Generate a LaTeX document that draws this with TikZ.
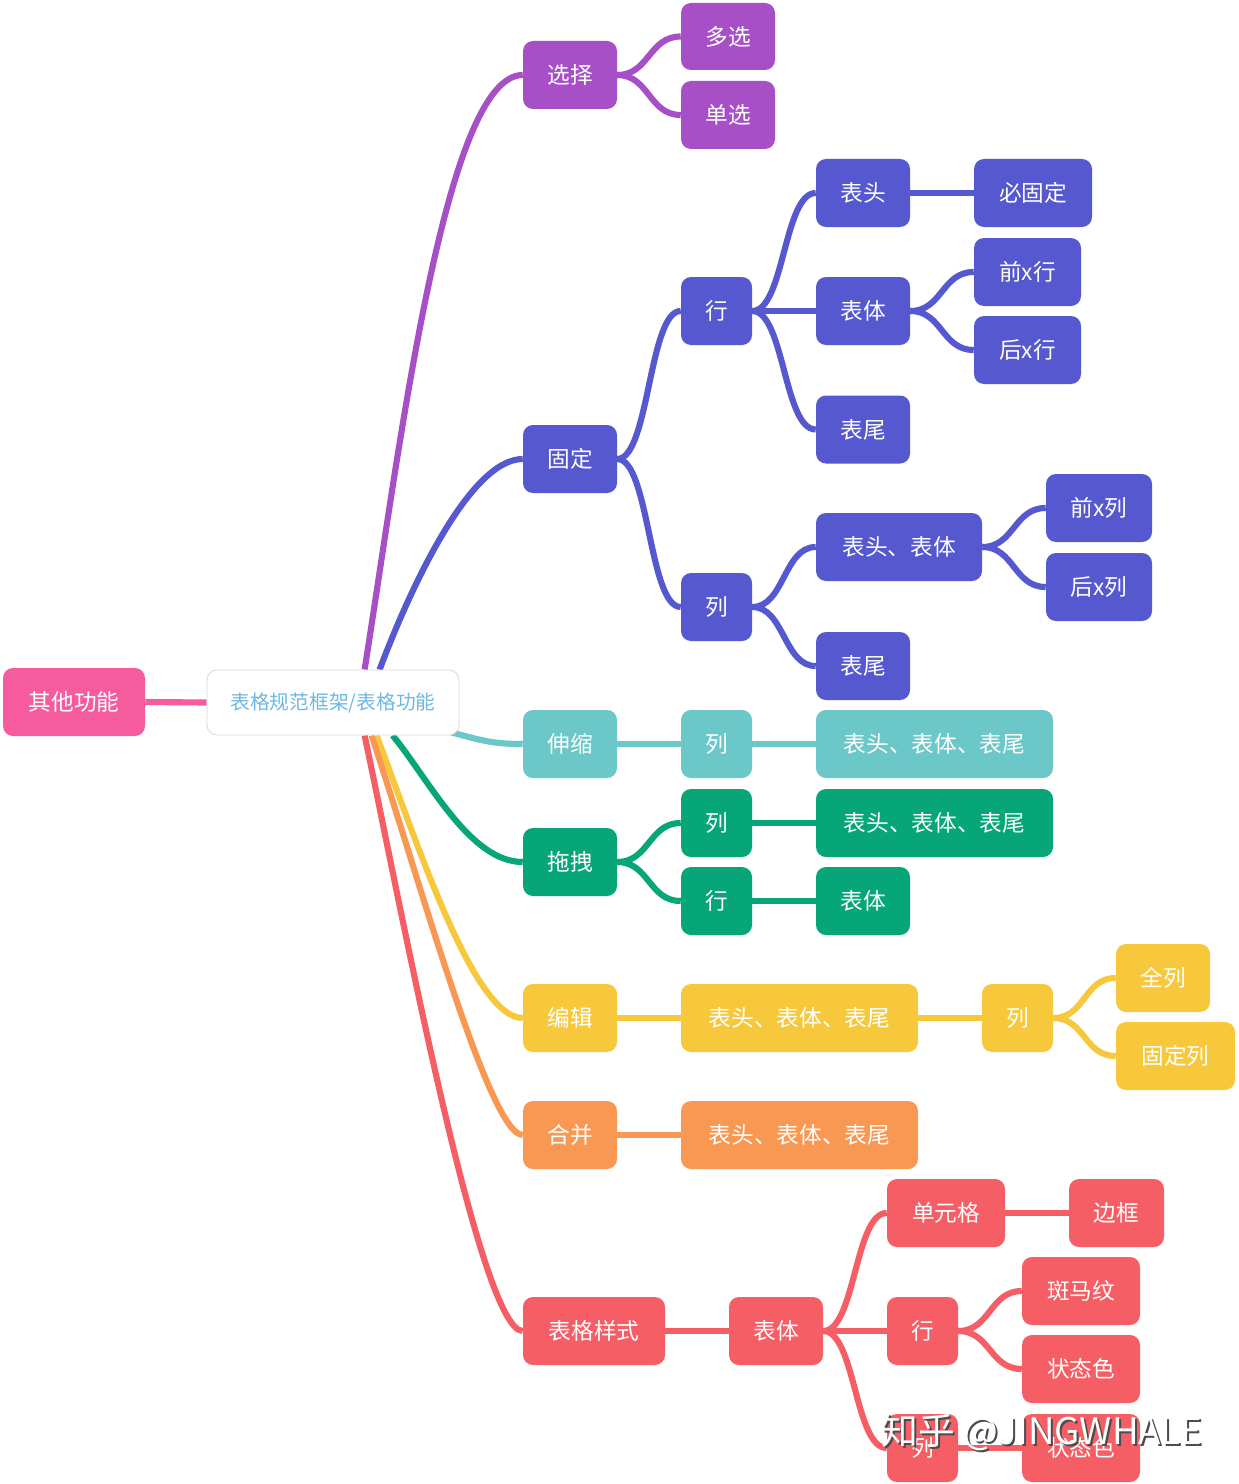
\documentclass[tikz,border=0pt]{standalone}
\usepackage{fontspec}
\setmainfont{Noto Sans CJK SC}
\newfontfamily\cjk{Noto Sans CJK SC}
\usetikzlibrary{backgrounds,calc}

\definecolor{cPink}{HTML}{F65B9D}
\definecolor{cPurple}{HTML}{A64FC7}
\definecolor{cBlue}{HTML}{5558CF}
\definecolor{cTeal}{HTML}{6BC7C8}
\definecolor{cGreen}{HTML}{07A678}
\definecolor{cYellow}{HTML}{F8C83C}
\definecolor{cOrange}{HTML}{F99852}
\definecolor{cRed}{HTML}{F65E65}
\definecolor{cRootText}{HTML}{6DB8E4}
\definecolor{cRootEdge}{HTML}{D9D9D9}

\begin{document}
\begin{tikzpicture}[x=0.75pt,y=-0.75pt,
  box/.style={rounded corners=7.5pt, minimum height=51pt, inner sep=0pt,
    text=white, font=\cjk\fontsize{17}{20}\selectfont, fill=#1},
  w/.style={minimum width=#1*0.75pt},
  link/.style={line width=4.6pt, draw=#1},
  rootbox/.style={rounded corners=7.5pt, minimum width=189pt, minimum height=48.75pt,
    inner sep=0pt, fill=white, draw=cRootEdge, line width=0.6pt,
    text=cRootText, font=\cjk\fontsize{14.8}{18}\selectfont},
]
\useasboundingbox (0,0) rectangle (1238,1484);

% central topic and its left branch
\node[rootbox] (root) at (333,702.5) {表格规范框架/表格功能};
\node[box=cPink, w=142] (qita) at (74,702) {其他功能};

% 选择
\node[box=cPurple, w=94] (xz)  at (570,75)    {选择};
\node[box=cPurple, w=94, minimum height=50.25pt] (dx) at (728,36.5) {多选};
\node[box=cPurple, w=94] (dan) at (728,115)   {单选};

% 固定
\node[box=cBlue, w=94]  (gd)  at (570,459)    {固定};
\node[box=cBlue, w=71]  (gh)  at (716.5,311)  {行};
\node[box=cBlue, w=94]  (gbt) at (863,193)    {表头};
\node[box=cBlue, w=118] (gbg) at (1033,193)   {必固定};
\node[box=cBlue, w=94]  (gbb) at (863,311)    {表体};
\node[box=cBlue, w=107] (gqh) at (1027.5,272) {前x行};
\node[box=cBlue, w=107] (ghh) at (1027.5,350) {后x行};
\node[box=cBlue, w=94]  (gbw) at (863,429.5)  {表尾};
\node[box=cBlue, w=71]  (gl)  at (716.5,607)  {列};
\node[box=cBlue, w=166] (gtb) at (899,547)    {表头、表体};
\node[box=cBlue, w=106] (gql) at (1099,508)   {前x列};
\node[box=cBlue, w=106] (ghl) at (1099,587)   {后x列};
\node[box=cBlue, w=94]  (glw) at (863,666)    {表尾};

% 伸缩
\node[box=cTeal, w=94]  (ss)  at (570,744)    {伸缩};
\node[box=cTeal, w=71]  (ssl) at (716.5,744)  {列};
\node[box=cTeal, w=237] (sst) at (934.5,744)  {表头、表体、表尾};

% 拖拽
\node[box=cGreen, w=94]  (tz)  at (570,862)   {拖拽};
\node[box=cGreen, w=71]  (tzl) at (716.5,823) {列};
\node[box=cGreen, w=237] (tzt) at (934.5,823) {表头、表体、表尾};
\node[box=cGreen, w=71]  (tzh) at (716.5,901) {行};
\node[box=cGreen, w=94]  (tzb) at (863,901)   {表体};

% 编辑
\node[box=cYellow, w=94]  (bj)  at (570,1018)    {编辑};
\node[box=cYellow, w=237] (bjt) at (799.5,1018)  {表头、表体、表尾};
\node[box=cYellow, w=71]  (bjl) at (1017.5,1018) {列};
\node[box=cYellow, w=94]  (bjq) at (1163,978)    {全列};
\node[box=cYellow, w=119] (bjg) at (1175.5,1056) {固定列};

% 合并
\node[box=cOrange, w=94]  (hb)  at (570,1135)   {合并};
\node[box=cOrange, w=237] (hbt) at (799.5,1135) {表头、表体、表尾};

% 表格样式
\node[box=cRed, w=142] (ys)   at (594,1331)    {表格样式};
\node[box=cRed, w=94]  (ysb)  at (776,1331)    {表体};
\node[box=cRed, w=118] (ysd)  at (946,1213)    {单元格};
\node[box=cRed, w=95]  (ysk)  at (1116.5,1213) {边框};
\node[box=cRed, w=71]  (ysh)  at (922.5,1331)  {行};
\node[box=cRed, w=118] (ysz)  at (1081,1291)   {斑马纹};
\node[box=cRed, w=118] (yss)  at (1081,1369)   {状态色};
\node[box=cRed, w=71]  (ysl)  at (922.5,1448)  {列};
\node[box=cRed, w=118] (yss2) at (1081,1448)   {状态色};

% page background and connectors, kept behind the boxes
\begin{scope}[on background layer]
  \fill[white] (0,0) rectangle (1238,1484);

  \draw[link=cPink] (qita.east) -- (root.west);

  % branches leaving the central topic
  \draw[link=cPurple] ($(root.north west)+(158,0)$) .. controls +(35,-220) and +(-78,0) .. (xz.west);
  \draw[link=cBlue]   ($(root.north west)+(173,0)$) .. controls +(30,-80) and +(-53,0) .. (gd.west);
  \draw[link=cTeal]   ($(root.south east)+(-8,-3)$) .. controls +(30,8) and +(-30,0) .. (ss.west);
  \draw[link=cGreen]  ($(root.south west)+(186,0)$) .. controls +(37,45) and +(-53,0) .. (tz.west);
  \draw[link=cYellow] ($(root.south west)+(170,0)$) .. controls +(43,115) and +(-48,0) .. (bj.west);
  \draw[link=cOrange] ($(root.south west)+(165,0)$) .. controls +(48,145) and +(-33,0) .. (hb.west);
  \draw[link=cRed]    ($(root.south west)+(158,0)$) .. controls +(35,165) and +(-43,0) .. (ys.west);

  % 选择
  \draw[link=cPurple] (xz.east) .. controls +(32,0) and +(-32,0) .. (dx.west);
  \draw[link=cPurple] (xz.east) .. controls +(32,0) and +(-32,0) .. (dan.west);

  % 固定
  \draw[link=cBlue] (gd.east) .. controls +(32,0) and +(-32,0) .. (gh.west);
  \draw[link=cBlue] (gd.east) .. controls +(32,0) and +(-32,0) .. (gl.west);
  \draw[link=cBlue] (gh.east) .. controls +(32,0) and +(-32,0) .. (gbt.west);
  \draw[link=cBlue] (gh.east) -- (gbb.west);
  \draw[link=cBlue] (gh.east) .. controls +(32,0) and +(-32,0) .. (gbw.west);
  \draw[link=cBlue] (gbt.east) -- (gbg.west);
  \draw[link=cBlue] (gbb.east) .. controls +(32,0) and +(-32,0) .. (gqh.west);
  \draw[link=cBlue] (gbb.east) .. controls +(32,0) and +(-32,0) .. (ghh.west);
  \draw[link=cBlue] (gl.east) .. controls +(32,0) and +(-32,0) .. (gtb.west);
  \draw[link=cBlue] (gl.east) .. controls +(32,0) and +(-32,0) .. (glw.west);
  \draw[link=cBlue] (gtb.east) .. controls +(32,0) and +(-32,0) .. (gql.west);
  \draw[link=cBlue] (gtb.east) .. controls +(32,0) and +(-32,0) .. (ghl.west);

  % 伸缩
  \draw[link=cTeal] (ss.east) -- (ssl.west);
  \draw[link=cTeal] (ssl.east) -- (sst.west);

  % 拖拽
  \draw[link=cGreen] (tz.east) .. controls +(32,0) and +(-32,0) .. (tzl.west);
  \draw[link=cGreen] (tz.east) .. controls +(32,0) and +(-32,0) .. (tzh.west);
  \draw[link=cGreen] (tzl.east) -- (tzt.west);
  \draw[link=cGreen] (tzh.east) -- (tzb.west);

  % 编辑
  \draw[link=cYellow] (bj.east) -- (bjt.west);
  \draw[link=cYellow] (bjt.east) -- (bjl.west);
  \draw[link=cYellow] (bjl.east) .. controls +(32,0) and +(-32,0) .. (bjq.west);
  \draw[link=cYellow] (bjl.east) .. controls +(32,0) and +(-32,0) .. (bjg.west);

  % 合并
  \draw[link=cOrange] (hb.east) -- (hbt.west);

  % 表格样式
  \draw[link=cRed] (ys.east) -- (ysb.west);
  \draw[link=cRed] (ysb.east) .. controls +(32,0) and +(-32,0) .. (ysd.west);
  \draw[link=cRed] (ysb.east) -- (ysh.west);
  \draw[link=cRed] (ysb.east) .. controls +(32,0) and +(-32,0) .. (ysl.west);
  \draw[link=cRed] (ysd.east) -- (ysk.west);
  \draw[link=cRed] (ysh.east) .. controls +(32,0) and +(-32,0) .. (ysz.west);
  \draw[link=cRed] (ysh.east) .. controls +(32,0) and +(-32,0) .. (yss.west);
  \draw[link=cRed] (ysl.east) -- (yss2.west);
\end{scope}

% signature with a drop shadow
\node[text=black!70, font=\cjk\fontsize{27.5}{30}\selectfont] (wmshadow) at (1044,1434) {知乎 @JINGWHALE};
\node[text=white, font=\cjk\fontsize{27.5}{30}\selectfont] (wm) at (1042,1432) {知乎 @JINGWHALE};
\end{tikzpicture}
\end{document}
